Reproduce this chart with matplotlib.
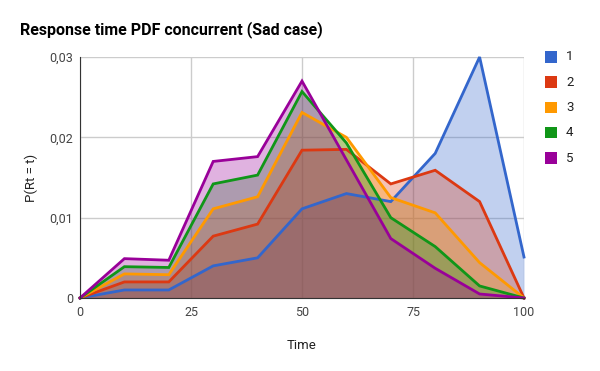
import numpy as np
from matplotlib import pyplot as plt

plt.rcParams['font.family'] = ['Roboto', 'DejaVu Sans']

time = [0, 10, 20, 30, 40, 50, 60, 70, 80, 90, 100]
s1 = [0, 0.0010, 0.0010, 0.0040, 0.0050, 0.0111, 0.0130, 0.0120, 0.0180, 0.0300, 0.0051]
s2 = [0, 0.0020, 0.0020, 0.0077, 0.0092, 0.0184, 0.0185, 0.0142, 0.0159, 0.0120, 0]
s3 = [0, 0.0030, 0.0029, 0.0111, 0.0126, 0.0231, 0.0200, 0.0125, 0.0106, 0.0044, 0]
s4 = [0, 0.0039, 0.0038, 0.0142, 0.0153, 0.0257, 0.0193, 0.0100, 0.0064, 0.0015, 0]
s5 = [0, 0.0049, 0.0047, 0.0170, 0.0176, 0.0270, 0.0172, 0.0074, 0.0037, 0.0005, 0]
series = [s1, s2, s3, s4, s5]
names = ['1', '2', '3', '4', '5']
colors = ['#3366cc', '#dc3912', '#ff9900', '#109618', '#990099']

fig = plt.figure(figsize=(6, 3.71), dpi=100)
ax = fig.add_axes([80 / 600, 1 - 298 / 371, 444 / 600, 241 / 371])

for vals, c in zip(series, colors):
    ax.fill_between(time, vals, 0, color=c, alpha=0.3, linewidth=0)
for vals, c in zip(series, colors):
    ax.plot(time, vals, color=c, linewidth=2, solid_joinstyle='miter', clip_on=False)

ax.set_xlim(0, 100)
ax.set_ylim(0, 0.03)
ax.set_xticks([0, 25, 50, 75, 100])
ax.set_yticks([0, 0.01, 0.02, 0.03])
ax.set_yticklabels(['0', '0,01', '0,02', '0,03'])
ax.grid(True, color='#cccccc', linewidth=1)
ax.set_axisbelow(True)
for s in ['top', 'right']:
    ax.spines[s].set_visible(False)
ax.spines['left'].set_color('#333333')
ax.spines['bottom'].set_color('#333333')
ax.tick_params(length=0, labelsize=9, colors='#444444')
ax.tick_params(axis='x', pad=6)
ax.tick_params(axis='y', pad=5)

ax.set_xlabel('Time', fontsize=9.5, color='#222222', labelpad=14)
ax.set_ylabel('P(Rt = t)', fontsize=9.5, color='#222222', labelpad=8)

fig.text(20 / 600, 1 - 30 / 371, 'Response time PDF concurrent (Sad case)',
         fontsize=11.5, fontweight='bold', color='#000000', va='center')

# legend
for i, (n, c) in enumerate(zip(names, colors)):
    y = 1 - (57 + i * 25.3) / 371
    fig.patches.append(plt.Rectangle((545 / 600, y - 5.5 / 371), 11.5 / 600, 11.5 / 371,
                                     transform=fig.transFigure, facecolor=c, edgecolor='none'))
    fig.text(566 / 600, y, n, fontsize=9.5, color='#222222', va='center')

fig.savefig('out.png', dpi=100)
